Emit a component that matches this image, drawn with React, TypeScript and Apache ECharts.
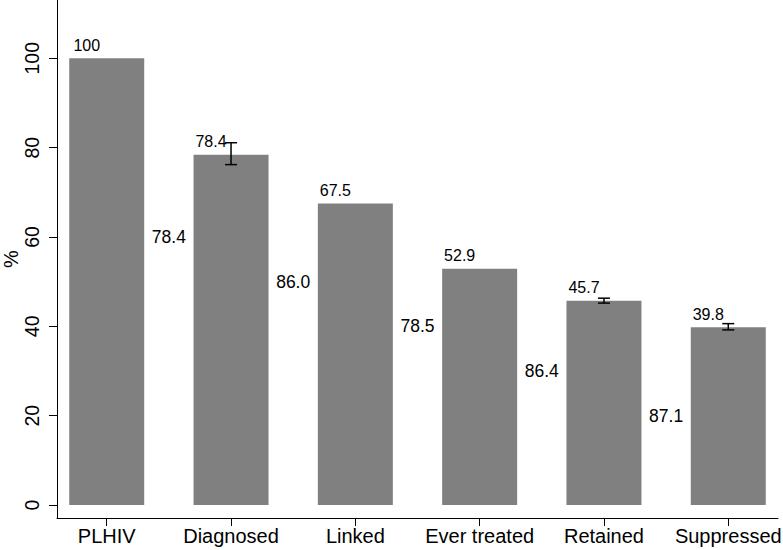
import React, { useEffect, useRef } from "react";
import * as echarts from "echarts";

const categories = ["PLHIV", "Diagnosed", "Linked", "Ever treated", "Retained", "Suppressed"];
const barValues = [100, 78.4, 67.5, 52.9, 45.7, 39.8];
// error bars: [category index, low, high]
const errorBars: [number, number, number][] = [
  [1, 76.2, 81.1],
  [4, 45.2, 46.3],
  [5, 39.2, 40.6],
];
const conversionValues = [78.4, 86.0, 78.5, 86.4, 87.1];
const conversionLabelY = [60, 50, 40, 30, 20];
const yTicks = [0, 20, 40, 60, 80, 100];
const yTitle = "%";

const FONT = "'Liberation Sans', Arial, sans-serif";

export default function App() {
  const ref = useRef<HTMLDivElement>(null);
  useEffect(() => {
    if (!ref.current) return;
    const chart = echarts.init(ref.current, undefined, { renderer: "svg" });
    const catIdx = categories.map((_, i) => i);
    chart.setOption({
      animation: false,
      backgroundColor: "#ffffff",
      textStyle: { fontFamily: FONT },
      grid: { left: 57, right: 5, top: 0, bottom: 32, containLabel: false, outerBoundsMode: "none" },
      graphic: [
        {
          type: "text",
          x: 11,
          y: 259,
          rotation: Math.PI / 2,
          style: {
            text: yTitle,
            fontSize: 20,
            fontFamily: FONT,
            fill: "#000",
            align: "center",
            verticalAlign: "middle",
          },
        },
      ],
      xAxis: {
        type: "value",
        min: -0.4,
        max: 5.4,
        splitLine: { show: false },
        axisLine: { show: true, onZero: false, lineStyle: { color: "#000", width: 1 } },
        axisTick: { show: true, length: 8, customValues: catIdx, lineStyle: { color: "#000" } },
        axisLabel: {
          customValues: catIdx,
          formatter: (v: number) => categories[Math.round(v)] ?? "",
          fontSize: 20,
          color: "#000",
          fontFamily: FONT,
          margin: 8,
          hideOverlap: false,
        },
      },
      yAxis: {
        type: "value",
        min: -2.91,
        max: 113.05,
        splitLine: { show: false },
        axisLine: { show: true, onZero: false, lineStyle: { color: "#000", width: 1 } },
        axisTick: { show: true, length: 8, customValues: yTicks, lineStyle: { color: "#000" } },
        axisLabel: {
          customValues: yTicks,
          rotate: 90,
          fontSize: 19.5,
          color: "#000",
          fontFamily: FONT,
          margin: 15,
        },
      },
      series: [
        {
          type: "bar",
          barWidth: 75,
          itemStyle: { color: "#808080" },
          data: barValues.map((v, i) => [i, v]),
          label: {
            show: true,
            position: "top",
            offset: [-20, 0],
            distance: 5,
            fontSize: 16,
            color: "#000",
            fontFamily: FONT,
            formatter: (p: any) => {
              const v = p.value[1];
              return Number.isInteger(v) ? String(v) : v.toFixed(1);
            },
          },
          z: 2,
        },
        {
          type: "custom",
          z: 5,
          data: errorBars,
          encode: { x: 0, y: [1, 2] },
          renderItem: (_params: any, api: any) => {
            const x = api.value(0);
            const lo = api.coord([x, api.value(1)]);
            const hi = api.coord([x, api.value(2)]);
            const hw = 6;
            const style = { stroke: "#000", lineWidth: 1.5 };
            return {
              type: "group",
              children: [
                { type: "line", shape: { x1: lo[0], y1: lo[1], x2: hi[0], y2: hi[1] }, style },
                { type: "line", shape: { x1: lo[0] - hw, y1: lo[1], x2: lo[0] + hw, y2: lo[1] }, style },
                { type: "line", shape: { x1: hi[0] - hw, y1: hi[1], x2: hi[0] + hw, y2: hi[1] }, style },
              ],
            };
          },
        },
        {
          type: "custom",
          z: 6,
          data: conversionValues.map((v, i) => [i + 0.5, conversionLabelY[i], v]),
          encode: { x: 0, y: 1 },
          renderItem: (_params: any, api: any) => {
            const pt = api.coord([api.value(0), api.value(1)]);
            return {
              type: "text",
              x: pt[0],
              y: pt[1],
              style: {
                text: Number(api.value(2)).toFixed(1),
                fontSize: 17.5,
                fontFamily: FONT,
                fill: "#000",
                align: "center",
                verticalAlign: "middle",
              },
            };
          },
        },
      ],
    });
    return () => chart.dispose();
  }, []);
  return <div ref={ref} style={{ width: 783, height: 550, position: "absolute", left: 0, top: 0 }} />;
}
